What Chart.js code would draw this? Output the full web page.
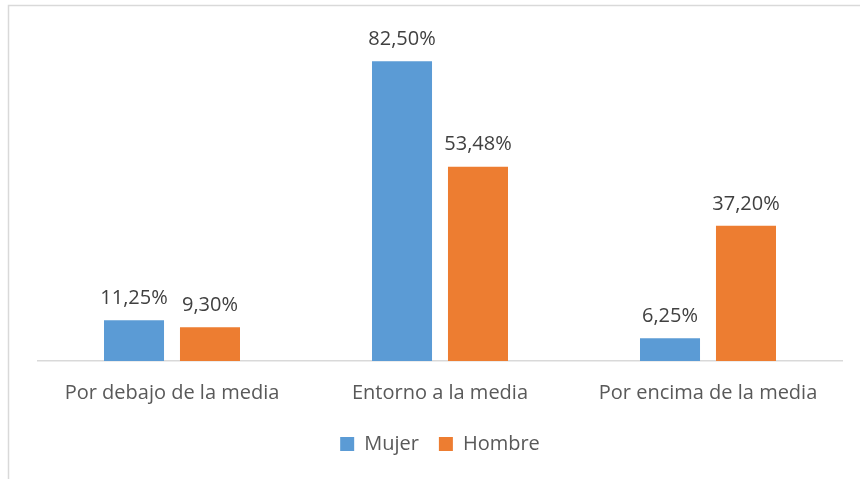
<!DOCTYPE html>
<html>
<head>
<meta charset="utf-8">
<script src="https://cdn.jsdelivr.net/npm/chart.js@4"></script>
<style>
  html, body { margin: 0; padding: 0; background: #fff; }
  #wrap { width: 860px; height: 479px; position: relative; }
</style>
</head>
<body>
<div id="wrap"><canvas id="chart"></canvas></div>
<script>
const categories = ['Por debajo de la media', 'Entorno a la media', 'Por encima de la media'];
const mujer = [11.25, 82.50, 6.25];
const hombre = [9.30, 53.48, 37.20];
const seriesNames = ['Mujer', 'Hombre'];

const FONT = '"Open Sans", sans-serif';
const fmt = v => v.toFixed(2).replace('.', ',') + '%';

// light frame like the original chart area border
const framePlugin = {
    id: 'frame',
    beforeDraw(chart) {
        const ctx = chart.ctx;
        ctx.save();
        ctx.strokeStyle = '#d9d9d9';
        ctx.lineWidth = 1.5;
        ctx.strokeRect(8.5, 5.5, chart.width + 20, chart.height + 20);
        ctx.restore();
    }
};

// value labels over bars
const valueLabels = {
    id: 'valueLabels',
    afterDatasetsDraw(chart) {
        const ctx = chart.ctx;
        ctx.save();
        ctx.font = '20px ' + FONT;
        ctx.fillStyle = '#404040';
        ctx.textAlign = 'center';
        ctx.textBaseline = 'middle';
        chart.data.datasets.forEach((ds, i) => {
            chart.getDatasetMeta(i).data.forEach((bar, j) => {
                ctx.fillText(fmt(ds.data[j]), bar.x, bar.y - 22);
            });
        });
        ctx.restore();
    }
};

new Chart(document.getElementById('chart'), {
    type: 'bar',
    data: {
        labels: categories,
        datasets: [
            { label: seriesNames[0], data: mujer, backgroundColor: '#5B9BD5' },
            { label: seriesNames[1], data: hombre, backgroundColor: '#ED7D31' }
        ]
    },
    options: {
        responsive: true,
        maintainAspectRatio: false,
        animation: false,
        categoryPercentage: 0.567,
        barPercentage: 0.79,
        layout: { padding: { top: 34, left: 38, right: 18, bottom: 15 } },
        plugins: {
            legend: {
                position: 'bottom',
                labels: {
                    boxWidth: 14, boxHeight: 14, padding: 20,
                    color: '#595959',
                    font: { family: FONT, size: 20 }
                }
            },
            tooltip: { enabled: false }
        },
        scales: {
            x: {
                grid: { display: false },
                border: { color: '#d9d9d9', width: 1.5 },
                ticks: { color: '#595959', font: { family: FONT, size: 20 }, padding: 12 },
                afterFit: s => { s.height = 53; }
            },
            y: { display: false, min: 0, max: 90 }
        }
    },
    plugins: [framePlugin, valueLabels]
});
</script>
</body>
</html>
